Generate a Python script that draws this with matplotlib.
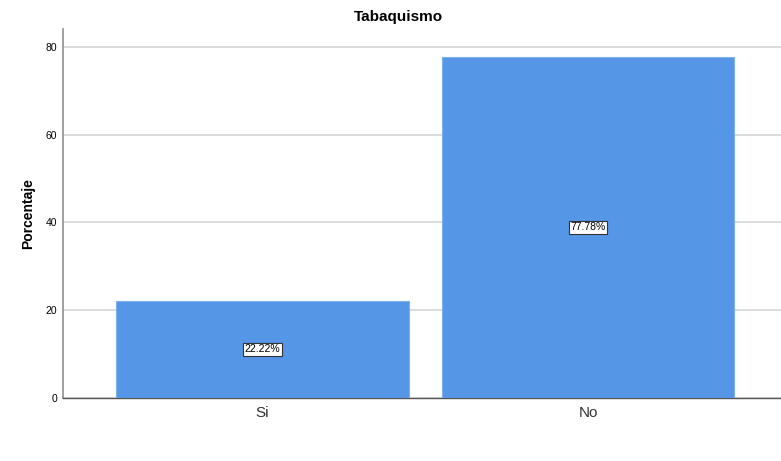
import matplotlib
matplotlib.use("Agg")
import matplotlib.pyplot as plt

categories = ["Si", "No"]
values = [22.22, 77.78]
labels = ["22.22%", "77.78%"]
yticks = [0, 20, 40, 60, 80]

plt.rcParams['font.family'] = ['Liberation Sans', 'DejaVu Sans']
fig = plt.figure(figsize=(7.81, 4.61), dpi=100)
ax = fig.add_axes([63/781, 63/461, 1 - 63/781, (398-29)/461])

x = list(range(len(categories)))
ax.bar(x, values, width=0.9, color="#5596e6", edgecolor="#7fb0ee", linewidth=0.8, zorder=3)
for xi, v, lab in zip(x, values, labels):
    ax.text(xi, v/2, lab, ha="center", va="center", fontsize=7.5, color="black", zorder=4,
            bbox=dict(boxstyle="square,pad=0.15", facecolor="white", edgecolor="#333333", linewidth=0.8))

ax.set_xlim(-0.613, 1.593)
ax.set_ylim(0, 84.1)
ax.set_yticks(yticks)
ax.set_yticklabels([str(t) for t in yticks], fontsize=7.5)
ax.set_xticks(x)
ax.set_xticklabels(categories, fontsize=11, color="#333333")
ax.tick_params(axis="y", length=0, pad=4)
ax.tick_params(axis="x", length=0, pad=6)
ax.yaxis.grid(True, color="#d9d9d9", linewidth=1.3, zorder=0)
ax.set_axisbelow(True)
for s in ["top", "right"]:
    ax.spines[s].set_visible(False)
ax.spines["left"].set_color("#999999")
ax.spines["left"].set_linewidth(1.3)
ax.spines["bottom"].set_color("#555555")
ax.spines["bottom"].set_linewidth(1.0)
ax.set_ylabel("Porcentaje", fontsize=10, fontweight="bold", labelpad=8)
fig.text(398/781, 1 - 17/461, "Tabaquismo", ha="center", va="center", fontsize=11, fontweight="bold")

fig.savefig("out.png", dpi=100)
